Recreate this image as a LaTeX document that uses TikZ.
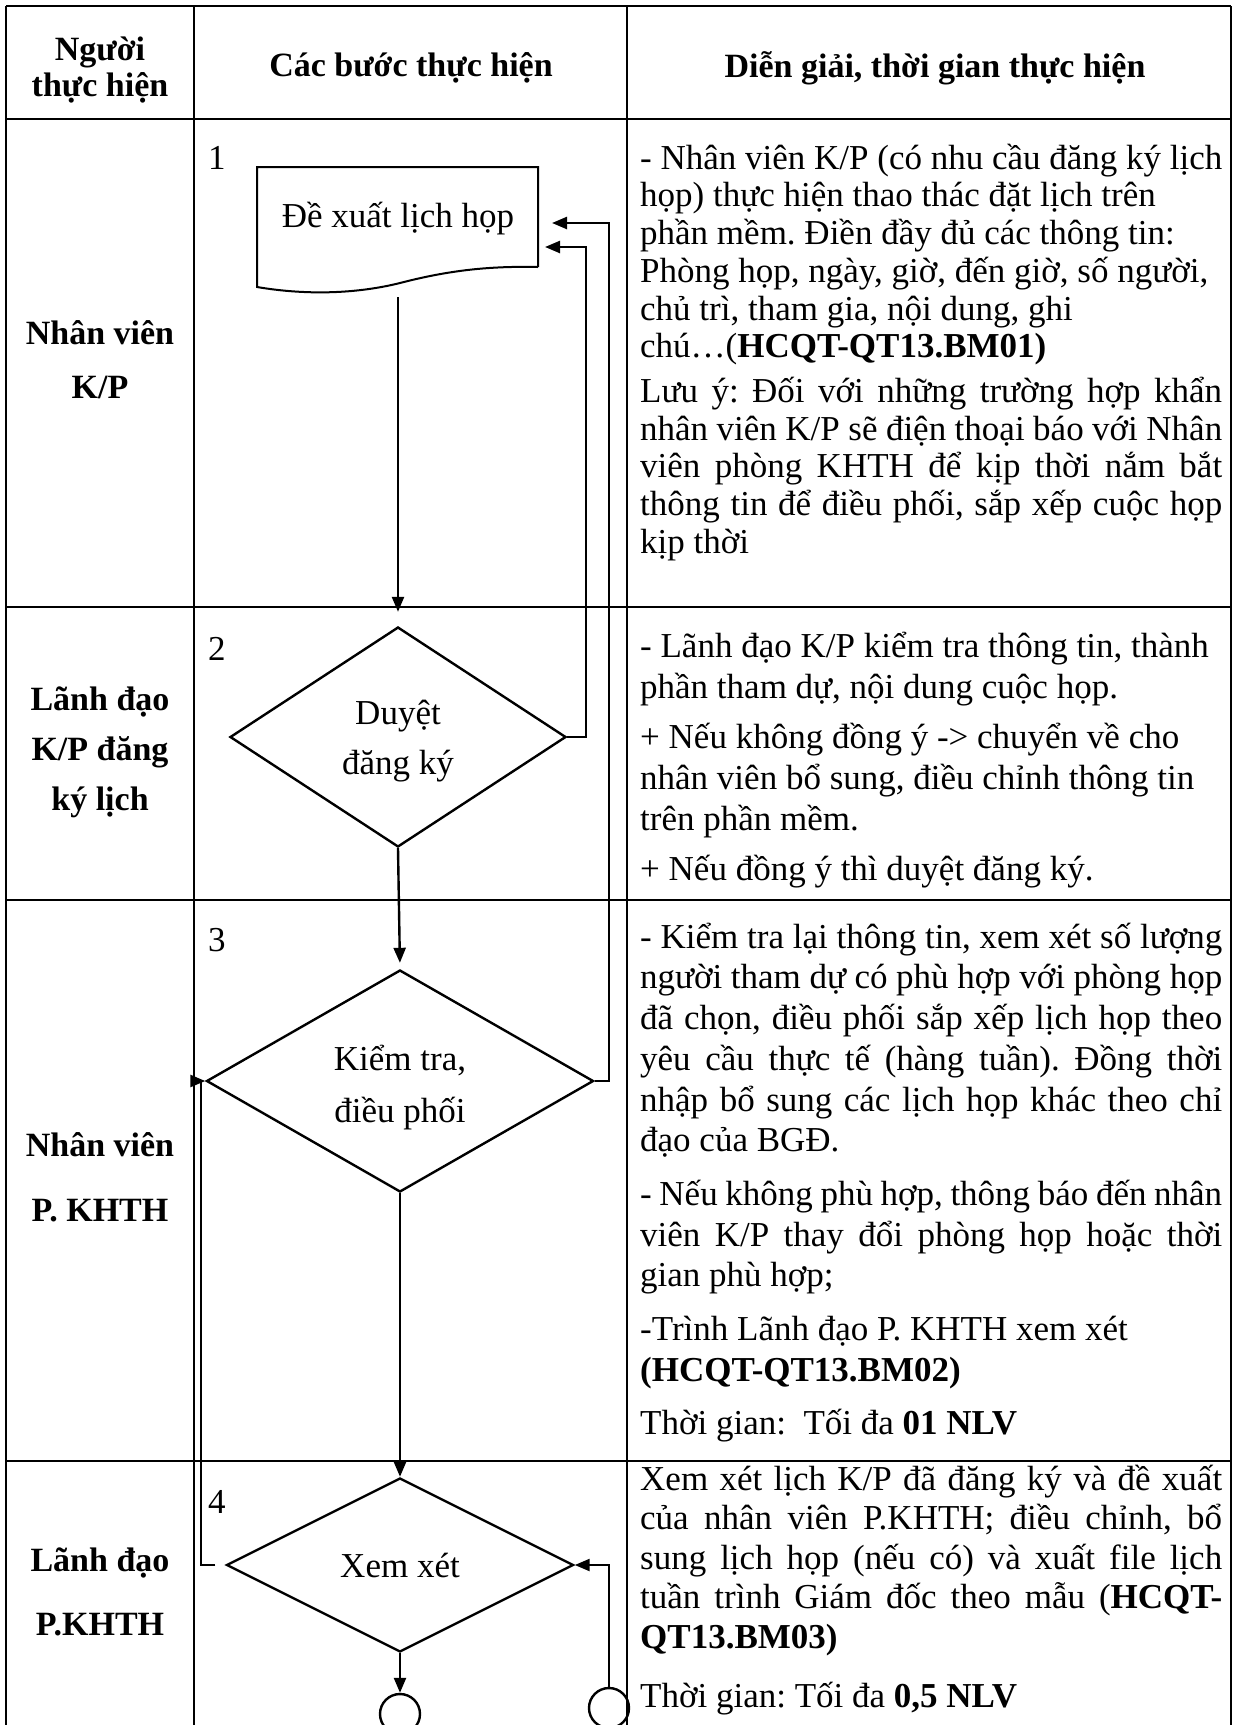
\documentclass[tikz,border=0pt]{standalone}
\usepackage{fontspec}
\setmainfont{Liberation Serif}
\usetikzlibrary{shapes.geometric,arrows.meta}
\newcommand\myfs{\fontsize{35}{40}\selectfont}
\newcommand\lst{\rule[-10pt]{0pt}{36pt}}
\newcommand\jl[1]{\hbox to 582pt{\lst #1}}
\newcommand\rl[1]{\hbox{\lst #1}}
\begin{document}
\begin{tikzpicture}[x=1pt,y=-1pt,
  tbl/.style={line width=1.6pt},
  flow/.style={line width=2.4pt},
  arr/.style={flow,-{Triangle[length=15pt,width=12pt]}},
  dec/.style={diamond,draw,line width=2.4pt,inner sep=0pt},
  dtext/.style={align=center,inner sep=0pt},
  lbl/.style={align=center,inner sep=0pt},
  num/.style={font=\myfs,anchor=west,inner sep=0pt},
  body/.style={anchor=north west,inner sep=0pt,font=\myfs},
  term/.style={circle,draw,line width=2.4pt,minimum size=40pt,inner sep=0pt}]
\clip (0,0) rectangle (1234,1725);
\fill[white] (0,0) rectangle (1234,1725);
% table
\draw[tbl] (6,6) -- (1231,6);
\foreach \yy in {119,607,900,1461} \draw[tbl] (6,\yy) -- (1231,\yy);
\foreach \xx in {6,194,627,1231} \draw[tbl] (\xx,6) -- (\xx,1730);
% headers
\node[lbl,font=\bfseries\fontsize{34}{36}\selectfont] (h1) at (100,70) {Người\\thực hiện};
\node[lbl,font=\bfseries\fontsize{34}{36}\selectfont] (h2) at (411,68) {Các bước thực hiện};
\node[lbl,font=\bfseries\fontsize{34}{36}\selectfont] (h3) at (935,68) {Diễn giải, thời gian thực hiện};
% lane labels
\node[lbl,font=\bfseries\fontsize{34}{54}\selectfont] (p1) at (100,360) {Nhân viên\\K/P};
\node[lbl,font=\bfseries\fontsize{34}{50}\selectfont] (p2) at (100,752) {Lãnh đạo\\K/P đăng\\ký lịch};
\node[lbl,font=\bfseries\fontsize{34}{65}\selectfont] (p3) at (100,1177) {Nhân viên\\P. KHTH};
\node[lbl,font=\bfseries\fontsize{34}{64}\selectfont] (p4) at (100,1592) {Lãnh đạo\\P.KHTH};
% step numbers
\node[num] (n1) at (208,158) {1};
\node[num] (n2) at (208,649) {2};
\node[num] (n3) at (208,940) {3};
\node[num] (n4) at (208,1502) {4};
% flow shapes
\node[font=\myfs,inner sep=0pt] (doc) at (398,219) {Đề xuất lịch họp};
\draw[line width=2pt] (538,267) -- (538,167) -- (257,167) -- (257,287)
  .. controls (310,296) and (360,293) .. (400,283)
  .. controls (450,270) and (490,266) .. (538,267);
\coordinate (docb) at (398,297);
\node[dec,minimum width=336pt,minimum height=220pt] (d2) at (398,737) {};
\node[dtext,font=\fontsize{35}{50}\selectfont] (d2t) at (398,741) {Duyệt\\đăng ký};
\node[dec,minimum width=387pt,minimum height=222pt] (d3) at (400,1081) {};
\node[dtext,font=\fontsize{35}{52}\selectfont] (d3t) at (400,1088) {Kiểm tra,\\điều phối};
\node[dec,minimum width=347pt,minimum height=174pt] (d4) at (400,1565) {};
\node[dtext,font=\myfs] (d4t) at (400,1565) {Xem xét};
\node[term] (c1) at (400,1714) {};
\node[term] (c2) at (609,1708) {};
% connectors
\coordinate (in1) at (552,223);
\coordinate (in2) at (545,247);
\coordinate (rA) at (586,0);
\coordinate (rB) at (609,0);
\coordinate (lA) at (201,0);
\draw[arr,shorten >=14pt] (docb) -- (d2.north);
\draw[arr,shorten >=6pt] (d2.south) -- (d3.north);
\draw[arr] (d3.south) -- (d4.north);
\draw[arr] (d4.south) -- (c1.north);
\draw[arr] (d2.east) -| (rA |- in2) -- (in2);
\draw[arr] (d3.east) -| (rB |- in1) -- (in1);
\draw[arr,shorten <=10pt] (d4.west) -| (lA |- d3.west) -- (d3.west);
\draw[arr] (c2.north) |- (d4.east);
% descriptions
\node[body] (b1) at (640,143) {\vbox{\hsize=582pt\baselineskip=37.7pt\lineskiplimit=-100pt\frenchspacing
\rl{- Nhân viên K/P (có nhu cầu đăng ký lịch}
\rl{họp) thực hiện thao thác đặt lịch trên}
\rl{phần mềm. Điền đầy đủ các thông tin:}
\rl{Phòng họp, ngày, giờ, đến giờ, số người,}
\rl{chủ trì, tham gia, nội dung, ghi}
\rl{chú…(\textbf{HCQT-QT13.BM01)}}
\vskip7pt
\jl{Lưu ý: Đối với những trường hợp khẩn}
\jl{nhân viên K/P sẽ điện thoại báo với Nhân}
\jl{viên phòng KHTH để kịp thời nắm bắt}
\jl{thông tin để điều phối, sắp xếp cuộc họp}
\rl{kịp thời}}};
\node[body] (b2) at (640,631) {\vbox{\hsize=582pt\baselineskip=41pt\lineskiplimit=-100pt\frenchspacing
\rl{- Lãnh đạo K/P kiểm tra thông tin, thành}
\rl{phần tham dự, nội dung cuộc họp.}
\vskip9pt
\rl{+ Nếu không đồng ý -> chuyển về cho}
\rl{nhân viên bổ sung, điều chỉnh thông tin}
\rl{trên phần mềm.}
\vskip9pt
\rl{+ Nếu đồng ý thì duyệt đăng ký.}}};
\node[body] (b3) at (640,922) {\vbox{\hsize=582pt\baselineskip=40.7pt\lineskiplimit=-100pt\frenchspacing
\jl{- Kiểm tra lại thông tin, xem xét số lượng}
\jl{người tham dự có phù hợp với phòng họp}
\jl{đã chọn, điều phối sắp xếp lịch họp theo}
\jl{yêu cầu thực tế (hàng tuần). Đồng thời}
\jl{nhập bổ sung các lịch họp khác theo chỉ}
\rl{đạo của BGĐ.}
\vskip13pt
\jl{- Nếu không phù hợp, thông báo đến nhân}
\jl{viên K/P thay đổi phòng họp hoặc thời}
\rl{gian phù hợp;}
\vskip13pt
\rl{-Trình Lãnh đạo P. KHTH xem xét}
\rl{\textbf{(HCQT-QT13.BM02)}}
\vskip13pt
\rl{Thời gian:\ \ Tối đa \textbf{01 NLV}}}};
\node[body] (b4) at (640,1464) {\vbox{\hsize=582pt\baselineskip=39.5pt\lineskiplimit=-100pt\frenchspacing
\jl{Xem xét lịch K/P đã đăng ký và đề xuất}
\jl{của nhân viên P.KHTH; điều chỉnh, bổ}
\jl{sung lịch họp (nếu có) và xuất file lịch}
\jl{tuần trình Giám đốc theo mẫu (\textbf{HCQT-}}
\rl{\textbf{QT13.BM03)}}
\vskip20pt
\rl{Thời gian: Tối đa \textbf{0,5 NLV}}}};
\end{tikzpicture}
\end{document}
